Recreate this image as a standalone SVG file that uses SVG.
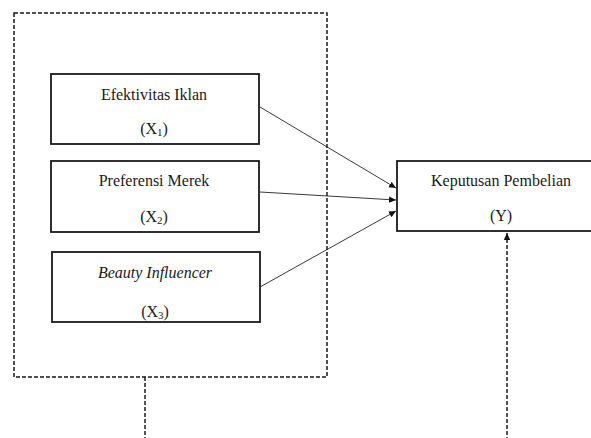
<svg xmlns="http://www.w3.org/2000/svg" width="591" height="438" viewBox="0 0 591 438">
<style>
.box{fill:#fff;stroke:#1a1a1a;stroke-width:1.8}
.dash{fill:none;stroke:#1a1a1a;stroke-width:1.5;stroke-dasharray:4 2}
.ln{fill:none;stroke:#222;stroke-width:0.9}
text{font-family:"Liberation Serif","Times New Roman",serif;font-size:16px;fill:#1a1a1a;text-anchor:middle}
.it{font-style:italic}
</style>
<defs>
<marker id="ah" markerWidth="8" markerHeight="8" refX="7" refY="4" orient="auto" markerUnits="userSpaceOnUse">
<path d="M0,0.8 L7,4 L0,7.2 Z" fill="#111"/>
</marker>
</defs>
<rect width="591" height="438" fill="#fff"/>
<g id="outer">
<rect class="dash" x="14" y="13" width="313" height="364"/>
</g>
<g id="x1">
<rect class="box" x="51" y="74" width="208" height="70"/>
<text x="154" y="100">Efektivitas Iklan</text>
<text x="154" y="134">(X<tspan font-size="11" dy="2">1</tspan><tspan dy="-2">)</tspan></text>
</g>
<g id="x2">
<rect class="box" x="51" y="161" width="208" height="71"/>
<text x="154" y="186">Preferensi Merek</text>
<text x="154" y="222">(X<tspan font-size="11" dy="2">2</tspan><tspan dy="-2">)</tspan></text>
</g>
<g id="x3">
<rect class="box" x="52" y="252" width="208" height="70"/>
<text class="it" x="155" y="278">Beauty Influencer</text>
<text x="155" y="317">(X<tspan font-size="11" dy="2">3</tspan><tspan dy="-2">)</tspan></text>
</g>
<g id="y">
<rect class="box" x="397" y="161" width="200" height="70"/>
<text x="501" y="186">Keputusan Pembelian</text>
<text x="501" y="221">(Y)</text>
</g>
<g id="connectors">
<line class="ln" x1="260" y1="107" x2="396" y2="188" marker-end="url(#ah)"/>
<line class="ln" x1="260" y1="192" x2="396" y2="200" marker-end="url(#ah)"/>
<line class="ln" x1="260" y1="287" x2="396" y2="211" marker-end="url(#ah)"/>
<path class="dash" d="M145,377 V441 H507 V240"/>
<line x1="507" y1="240" x2="507" y2="233" stroke="#111" stroke-width="1.5" marker-end="url(#ah)"/>
</g>
</svg>
